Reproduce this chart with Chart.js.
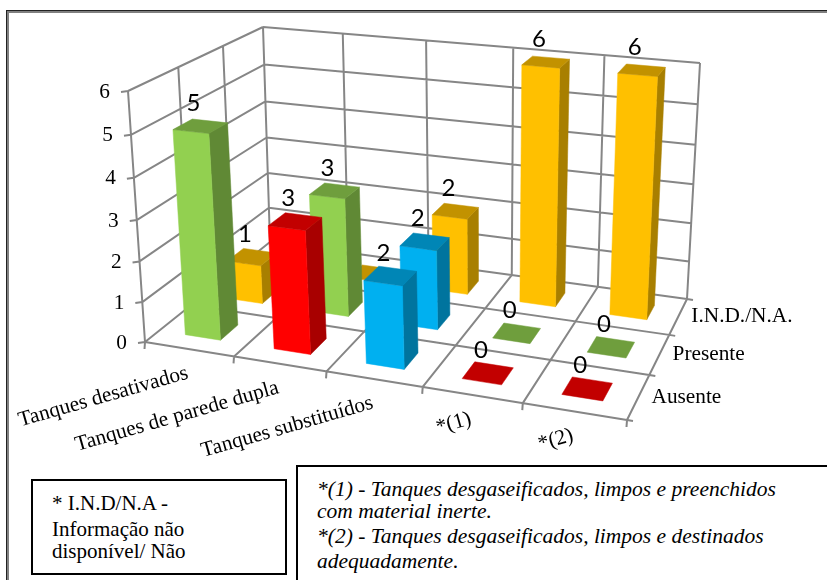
<!DOCTYPE html>
<html lang="pt">
<head>
<meta charset="utf-8">
<title>Tanques</title>
<script src="https://cdn.jsdelivr.net/npm/chart.js@4"></script>
<style>
  html, body { margin: 0; padding: 0; background: #fff; overflow: hidden; }
  #page { position: relative; width: 827px; height: 580px; overflow: hidden; font-family: "Liberation Serif", serif; color: #000; }
  #chart { position: absolute; left: 0; top: 0; }
  .frame { position: absolute; left: 6px; top: 10px; width: 900px; height: 700px; border-top: 1px solid #222; border-left: 1px solid #222; }
  .frame div { width: 100%; height: 100%; border-top: 2px solid #808080; border-left: 2px solid #808080; }
  .box { position: absolute; box-sizing: border-box; border: 2px solid #000; background: #fff; }
  .line { position: absolute; white-space: pre; line-height: 22px; }
  .plain { font-size: 21px; }
  .note { font-size: 21.5px; font-style: italic; }
</style>
</head>
<body>
<div id="page">
  <canvas id="chart" width="827" height="580"></canvas>
  <div class="frame"><div></div></div>
  <div class="box" style="left:31px;top:479px;width:256px;height:96px"></div>
  <div class="line plain" style="left:52px;top:492px">* I.N.D/N.A -</div>
  <div class="line plain" style="left:52px;top:518px">Informação não</div>
  <div class="line plain" style="left:52px;top:540px">disponível/ Não</div>
  <div class="box" style="left:296px;top:465px;width:600px;height:200px"></div>
  <div class="line note" style="left:317px;top:478px">*(1) - Tanques desgaseificados, limpos e preenchidos</div>
  <div class="line note" style="left:317px;top:500px">com material inerte.</div>
  <div class="line note" style="left:317px;top:525px">*(2) - Tanques desgaseificados, limpos e destinados</div>
  <div class="line note" style="left:317px;top:550px">adequadamente.</div>
</div>
<script>
// Categories, depth rows and the counts of each row
const categories = ['Tanques desativados', 'Tanques de parede dupla', 'Tanques substituídos', '*(1)', '*(2)'];
const rows = ['Ausente', 'Presente', 'I.N.D./N.A.'];
const ausente = [5, 3, 2, 0, 0];
const presente = [1, 3, 2, 0, 0];
const indisponivel = [null, 0, 2, 6, 6];
const indisponivelComRotulo = [false, false, true, true, true];

const VERDE = '#92D050', VERMELHO = '#FF0000', AZUL = '#00B0F0', LARANJA = '#FFC000';
const coresAusente = [VERDE, VERMELHO, AZUL, VERMELHO, VERMELHO];
const coresPresente = [LARANJA, VERDE, AZUL, VERDE, VERDE];
const coresIndisponivel = [LARANJA, LARANJA, LARANJA, LARANJA, LARANJA];

// Corners of the 3D box on screen: front-left, front-right, back-right, back-left
const FLOOR = [[145, 342], [627, 420], [687, 299], [270, 242]];
const CEIL = [[128, 91], [639, 144], [700, 63], [263, 27]];
const BAR_FRACTION = 0.4;
const HEIGHT_FORESHORTENING = 0.058;
const GRID = '#868686';

// Square-to-quad perspective mapping
function quadMap(q) {
  const [[x0, y0], [x1, y1], [x2, y2], [x3, y3]] = q;
  const sx = x0 - x1 + x2 - x3, sy = y0 - y1 + y2 - y3;
  const dx1 = x1 - x2, dx2 = x3 - x2, dy1 = y1 - y2, dy2 = y3 - y2;
  const den = dx1 * dy2 - dx2 * dy1;
  const g = (sx * dy2 - dx2 * sy) / den, h = (dx1 * sy - sx * dy1) / den;
  const a = x1 - x0 + g * x1, b = x3 - x0 + h * x3;
  const d = y1 - y0 + g * y1, e = y3 - y0 + h * y3;
  return (u, v) => {
    const w = g * u + h * v + 1;
    return [(a * u + b * v + x0) / w, (d * u + e * v + y0) / w];
  };
}
const floorAt = quadMap(FLOOR), ceilAt = quadMap(CEIL);

function shade(hex, k) {
  const n = parseInt(hex.slice(1), 16);
  const c = [n >> 16, (n >> 8) & 255, n & 255].map(v => Math.round(v * k));
  return `rgb(${c[0]},${c[1]},${c[2]})`;
}

const box3d = {
  id: 'box3d',
  beforeDatasetsDraw(chart) {
    const { ctx, scales: { x, y, z } } = chart;
    const U = i => (x.getPixelForValue(i) - x.left) / x.width;
    const V = j => (z.getPixelForValue(j) - z.left) / z.width;
    const T = val => (y.bottom - y.getPixelForValue(val)) / y.height;
    const P = (u, v, t) => {
      const a = floorAt(u, v), b = ceilAt(u, v);
      const s = t / (1 + HEIGHT_FORESHORTENING * (1 - t));
      return [a[0] + (b[0] - a[0]) * s, a[1] + (b[1] - a[1]) * s];
    };
    const seg = (a, b) => { ctx.moveTo(a[0], a[1]); ctx.lineTo(b[0], b[1]); };
    const face = (pts, col) => {
      ctx.beginPath();
      pts.forEach((p, i) => i ? ctx.lineTo(p[0], p[1]) : ctx.moveTo(p[0], p[1]));
      ctx.closePath();
      ctx.fillStyle = col; ctx.strokeStyle = col; ctx.lineWidth = 0.5;
      ctx.fill(); ctx.stroke();
    };
    const nx = categories.length, nz = rows.length;

    // Walls, floor and tick marks
    ctx.save();
    ctx.strokeStyle = GRID; ctx.lineWidth = 2;
    ctx.beginPath();
    y.ticks.forEach(tk => {
      const t = T(tk.value);
      seg(P(0, 0, t), P(0, 1, t));
      seg(P(0, 1, t), P(1, 1, t));
      const e = P(0, 0, t);
      seg(e, [e[0] - 7, e[1] + 1]);
    });
    for (let i = 0; i <= nx; i++) {
      const u = U(i - 0.5);
      seg(P(u, 0, 0), P(u, 1, 0));
      seg(P(u, 1, 0), P(u, 1, 1));
      const e = P(u, 0, 0);
      seg(e, [e[0] - 0.5, e[1] + 7]);
    }
    for (let j = 0; j <= nz; j++) {
      const v = V(j - 0.5);
      seg(P(0, v, 0), P(1, v, 0));
      seg(P(0, v, 0), P(0, v, 1));
      const e = P(1, v, 0);
      seg(e, [e[0] + 6, e[1] + 1]);
    }
    ctx.stroke();

    // Columns, from the back row forward and left to right
    const marks = [];
    for (let j = nz - 1; j >= 0; j--) {
      const ds = chart.data.datasets[j];
      ds.data.forEach((val, i) => {
        if (val === null) return;
        const col = ds.backgroundColor[i];
        const u0 = U(i - BAR_FRACTION / 2), u1 = U(i + BAR_FRACTION / 2);
        const v0 = V(j - BAR_FRACTION / 2), v1 = V(j + BAR_FRACTION / 2);
        const t = T(val);
        if (val > 0) {
          face([P(u1, v0, 0), P(u1, v1, 0), P(u1, v1, t), P(u1, v0, t)], shade(col, 0.66));
          face([P(u0, v0, 0), P(u1, v0, 0), P(u1, v0, t), P(u0, v0, t)], col);
        }
        face([P(u0, v0, t), P(u1, v0, t), P(u1, v1, t), P(u0, v1, t)], shade(col, 0.76));
        if (ds.comRotulo[i]) marks.push({ val, at: P(U(i), V(j), t) });
      });
    }

    // Value labels above the columns
    ctx.fillStyle = '#000';
    ctx.font = '24px Lato, "Open Sans", sans-serif';
    ctx.textAlign = 'center'; ctx.textBaseline = 'middle';
    marks.forEach(m => ctx.fillText(String(m.val), m.at[0] - 7, m.at[1] - 23));

    // Axis labels
    ctx.font = '21.3px "Liberation Serif", serif';
    ctx.textBaseline = 'middle'; ctx.textAlign = 'right';
    y.ticks.forEach(tk => {
      const e = P(0, 0, T(tk.value));
      ctx.fillText(String(tk.value), e[0] - 18, e[1] + 1);
    });
    ctx.textBaseline = 'alphabetic';
    categories.forEach((name, i) => {
      const e = P(U(i), 0, 0);
      ctx.save();
      ctx.translate(e[0], e[1] + 29);
      ctx.rotate(-16 * Math.PI / 180);
      ctx.fillText(x.getLabels()[i], 0, 0);
      ctx.restore();
    });
    ctx.textAlign = 'left';
    z.getLabels().forEach((name, j) => {
      const e = P(1, V(j), 0);
      ctx.fillText(name, e[0] + 13, e[1] + 6);
    });
    ctx.restore();
    return false;
  }
};

new Chart(document.getElementById('chart'), {
  type: 'bar',
  data: {
    labels: categories,
    datasets: [
      { label: rows[0], data: ausente, backgroundColor: coresAusente, comRotulo: ausente.map(() => true) },
      { label: rows[1], data: presente, backgroundColor: coresPresente, comRotulo: presente.map(() => true) },
      { label: rows[2], data: indisponivel, backgroundColor: coresIndisponivel, comRotulo: indisponivelComRotulo }
    ]
  },
  plugins: [box3d],
  options: {
    responsive: false,
    animation: false,
    events: [],
    plugins: { legend: { display: false }, tooltip: { enabled: false }, title: { display: false } },
    scales: {
      x: { type: 'category', display: false, offset: true },
      y: { type: 'linear', display: false, min: 0, max: 6, ticks: { stepSize: 1 } },
      z: { type: 'category', axis: 'x', position: 'bottom', display: false, offset: true, labels: rows }
    }
  }
});
</script>
</body>
</html>
